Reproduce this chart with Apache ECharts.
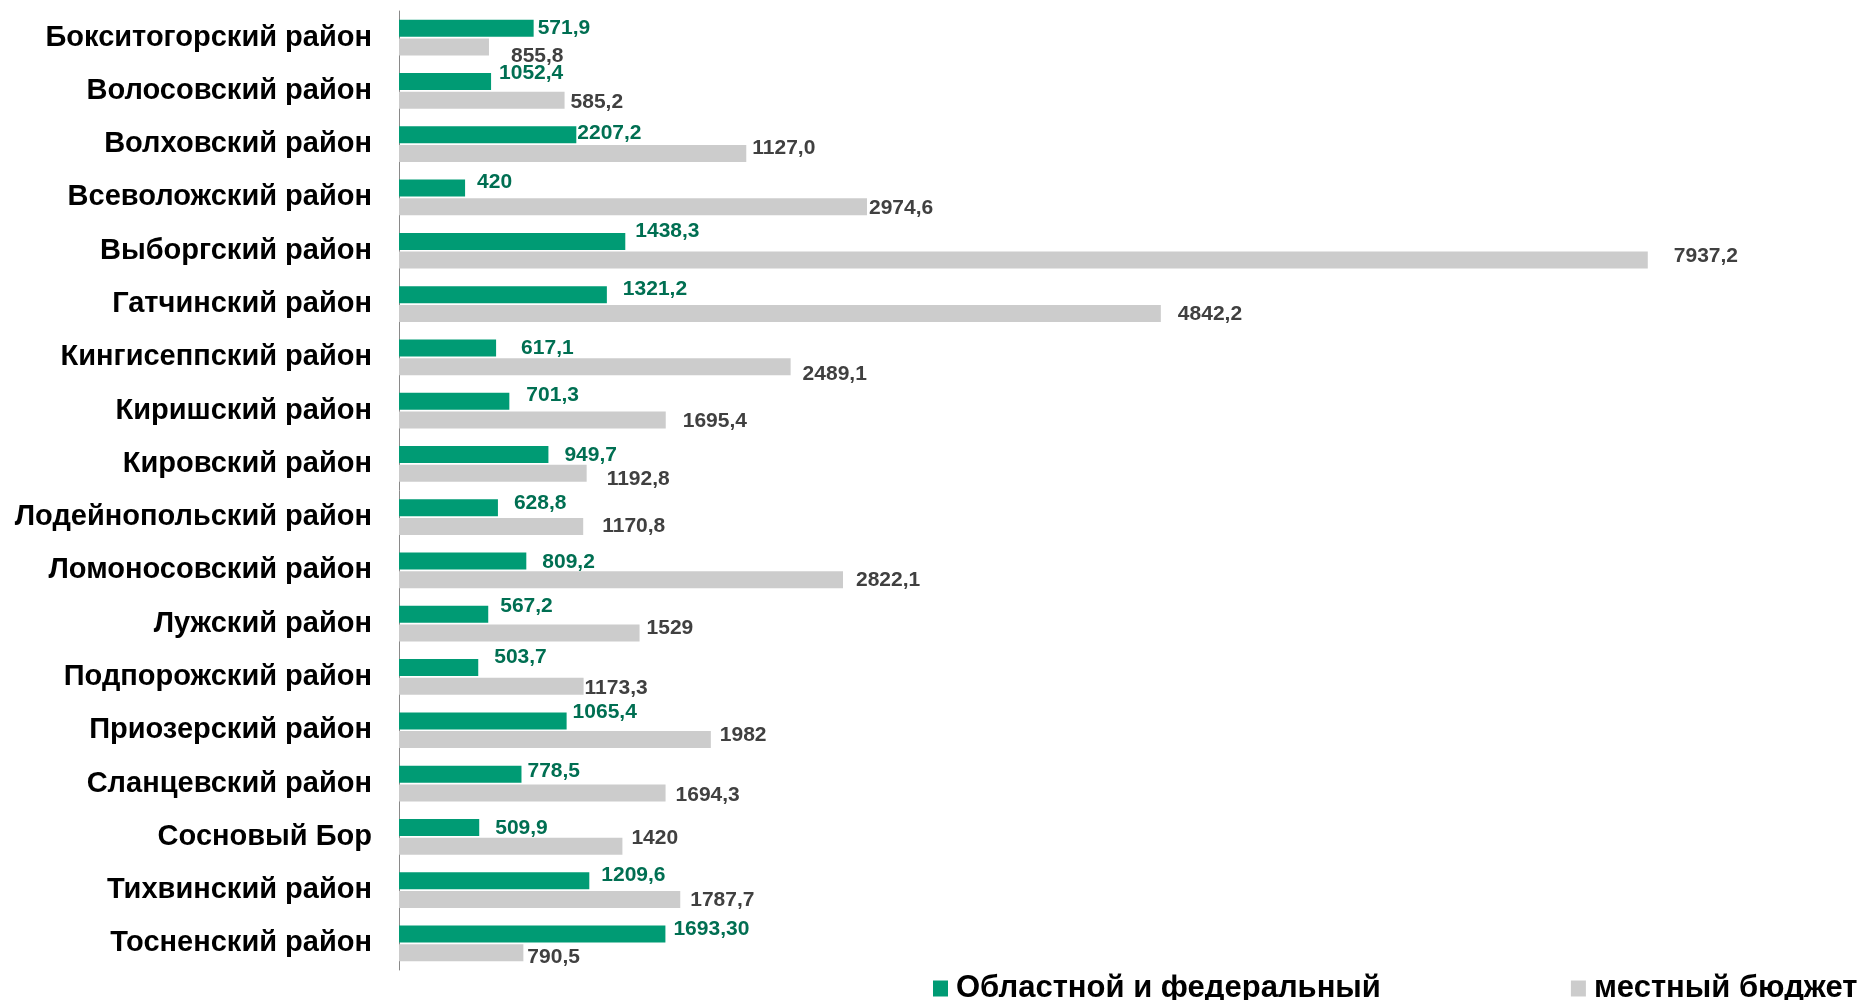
<!DOCTYPE html>
<html>
<head>
<meta charset="utf-8">
<script src="https://cdn.jsdelivr.net/npm/echarts@6/dist/echarts.min.js"></script>
<style>
  html, body { margin: 0; padding: 0; background: #fff; }
  #chart { width: 1872px; height: 1000px; }
</style>
</head>
<body>
<div id="chart"></div>
<script>
const districts = [
  "Бокситогорский район", "Волосовский район", "Волховский район", "Всеволожский район",
  "Выборгский район", "Гатчинский район", "Кингисеппский район", "Киришский район",
  "Кировский район", "Лодейнопольский район", "Ломоносовский район", "Лужский район",
  "Подпорожский район", "Приозерский район", "Сланцевский район", "Сосновый Бор",
  "Тихвинский район", "Тосненский район"
];

// bar lengths as drawn in the picture
const fedBars = [855.8, 585.2, 1127.0, 420, 1438.3, 1321.2, 617.1, 701.3, 949.7,
  628.8, 809.2, 567.2, 503.7, 1065.4, 778.5, 509.9, 1209.6, 1693.3];
const localBars = [571.9, 1052.4, 2207.2, 2974.6, 7937.2, 4842.2, 2489.1, 1695.4, 1192.8,
  1170.8, 2822.1, 1529, 1173.3, 1982, 1694.3, 1420, 1787.7, 790.5];

// value labels as printed
const fedText = ["571,9", "1052,4", "2207,2", "420", "1438,3", "1321,2", "617,1", "701,3", "949,7",
  "628,8", "809,2", "567,2", "503,7", "1065,4", "778,5", "509,9", "1209,6", "1693,30"];
const localText = ["855,8", "585,2", "1127,0", "2974,6", "7937,2", "4842,2", "2489,1", "1695,4", "1192,8",
  "1170,8", "2822,1", "1529", "1173,3", "1982", "1694,3", "1420", "1787,7", "790,5"];

// hand-placed label nudges [dx, dy]
const fedNudge = [[4,0],[8,-8],[1,-2],[12,-6],[10,-10],[16,-5],[25,0],[17,-6],[16,1],
  [16,-5],[16,1],[12,-8],[16,-10],[6,-9],[6,-3],[16,1],[12,-6],[8,-5]];
const localNudge = [[22,9],[6,2],[6,-5],[2,1],[26,-4],[17,1],[12,8],[17,1],[20,6],
  [19,0],[13,0],[7,-5],[1,2],[9,-4],[10,2],[9,-8],[10,1],[4,4]];

const font = "'Liberation Sans', Arial, sans-serif";

function items(vals, texts, nudge) {
  return vals.map((v, i) => ({
    value: v,
    label: { formatter: texts[i], offset: nudge[i] }
  }));
}

let mychart = echarts.init(document.getElementById("chart"));
mychart.setOption({
  animation: false,
  grid: {
    left: 399,
    right: 57,
    top: 11,
    bottom: 30,
    containLabel: false,
    outerBoundsMode: "none"
  },
  xAxis: {
    type: "value",
    min: 0,
    max: 9000,
    show: false,
    splitLine: { show: false }
  },
  yAxis: {
    type: "category",
    inverse: true,
    data: districts,
    axisLine: { lineStyle: { color: "#898989", width: 1 } },
    axisTick: { length: 6, lineStyle: { color: "#898989" } },
    axisLabel: {
      margin: 27,
      color: "#000",
      fontSize: 29,
      fontWeight: "bold",
      fontFamily: font
    }
  },
  legend: {
    left: 928,
    top: 968,
    itemWidth: 15,
    itemHeight: 16,
    itemGap: 190,
    icon: "rect",
    textStyle: {
      color: "#000",
      fontSize: 31,
      fontWeight: "bold",
      fontFamily: font,
      padding: [0, 0, 0, 3]
    },
    data: ["Областной и федеральный", "местный бюджет"]
  },
  series: [
    {
      name: "Областной и федеральный",
      type: "bar",
      barWidth: 17,
      barGap: "10%",
      itemStyle: { color: "#009B74" },
      label: {
        show: true,
        position: "right",
        distance: 0,
        color: "#006F52",
        fontSize: 21,
        fontWeight: "bold",
        fontFamily: font
      },
      data: items(fedBars, fedText, fedNudge)
    },
    {
      name: "местный бюджет",
      type: "bar",
      barWidth: 17,
      barGap: "10%",
      itemStyle: { color: "#CCCCCC" },
      label: {
        show: true,
        position: "right",
        distance: 0,
        color: "#404040",
        fontSize: 21,
        fontWeight: "bold",
        fontFamily: font
      },
      data: items(localBars, localText, localNudge)
    }
  ]
});
</script>
</body>
</html>
